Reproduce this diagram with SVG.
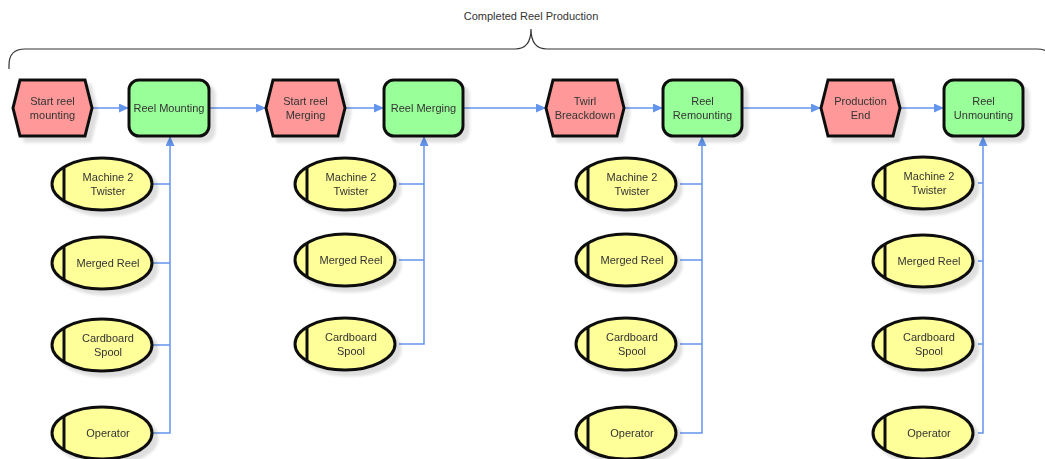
<svg xmlns="http://www.w3.org/2000/svg" width="1045" height="459" viewBox="0 0 1045 459">
<defs>
<filter id="sh" x="-20%" y="-20%" width="150%" height="160%">
<feGaussianBlur in="SourceAlpha" stdDeviation="1.5"/>
<feOffset dx="5" dy="5" result="b"/>
<feComponentTransfer><feFuncA type="linear" slope="0.13"/></feComponentTransfer>
<feMerge><feMergeNode/><feMergeNode in="SourceGraphic"/></feMerge>
</filter>
<marker id="ah" markerUnits="userSpaceOnUse" markerWidth="10" markerHeight="10" refX="10" refY="4.5" orient="auto">
<path d="M0,0 L10,4.5 L0,9 z" fill="#6495ed"/>
</marker>
</defs>
<style>
text{font-family:"Liberation Sans",Arial,sans-serif;font-size:11px;fill:#333;text-anchor:middle}
.ev{fill:#ff9999;stroke:#111;stroke-width:3;stroke-linejoin:miter}
.fn{fill:#99ff99;stroke:#111;stroke-width:3}
.el{fill:#ffff99;stroke:#111;stroke-width:3}
.bar{stroke:#111;stroke-width:3}
.c{fill:none;stroke:#6495ed;stroke-width:1.5}
.ca{fill:none;stroke:#6495ed;stroke-width:1.5;marker-end:url(#ah)}
.brace{fill:none;stroke:#333;stroke-width:1.2}
</style>
<g id="brace">
<path class="brace" d="M9,69 L9,65 Q9,49 25,49 L515,49 Q531,49 531,29 Q531,49 547,49 L1037,49 Q1053,49 1053,65 L1053,69"/>
<text x="531" y="20">Completed Reel Production</text>
</g>
<g id="connectors">
<line class="ca" x1="92" y1="108" x2="129" y2="108"/>
<line class="ca" x1="209" y1="108" x2="266" y2="108"/>
<line class="ca" x1="345" y1="108" x2="384" y2="108"/>
<line class="ca" x1="463" y1="108" x2="546" y2="108"/>
<line class="ca" x1="624" y1="108" x2="663" y2="108"/>
<line class="ca" x1="742" y1="108" x2="821" y2="108"/>
<line class="ca" x1="900" y1="108" x2="944" y2="108"/>
<path class="ca" d="M152,433 L170,433 L170,136"/>
<path class="c" d="M152,184 L170,184 M152,263 L170,263 M152,345 L170,345"/>
<path class="ca" d="M399,344 L424,344 L424,136"/>
<path class="c" d="M399,184 L424,184 M399,260 L424,260"/>
<path class="ca" d="M680,433 L702,433 L702,136"/>
<path class="c" d="M680,184 L702,184 M680,260 L702,260 M680,344 L702,344"/>
<path class="ca" d="M978,433 L983,433 L983,136"/>
<path class="c" d="M978,183 L983,183 M978,261 L983,261 M978,344 L983,344"/>
</g>
<g id="ev1" filter="url(#sh)"><polygon class="ev" points="13,108 20,80 85,80 92,108 85,136 20,136"/><text x="52.5" y="105">Start reel</text><text x="52.5" y="119">mounting</text></g>
<g id="fn1" filter="url(#sh)"><rect class="fn" x="129" y="80" width="80" height="56" rx="10"/><text x="169" y="112">Reel Mounting</text></g>
<g id="ev2" filter="url(#sh)"><polygon class="ev" points="266,108 273,80 338,80 345,108 338,136 273,136"/><text x="305.5" y="105">Start reel</text><text x="305.5" y="119">Merging</text></g>
<g id="fn2" filter="url(#sh)"><rect class="fn" x="384" y="80" width="79" height="56" rx="10"/><text x="423.5" y="112">Reel Merging</text></g>
<g id="ev3" filter="url(#sh)"><polygon class="ev" points="546,108 553,80 617,80 624,108 617,136 553,136"/><text x="585" y="105">Twirl</text><text x="585" y="119">Breackdown</text></g>
<g id="fn3" filter="url(#sh)"><rect class="fn" x="663" y="80" width="79" height="56" rx="10"/><text x="702.5" y="105">Reel</text><text x="702.5" y="119">Remounting</text></g>
<g id="ev4" filter="url(#sh)"><polygon class="ev" points="821,108 828,80 893,80 900,108 893,136 828,136"/><text x="860.5" y="105">Production</text><text x="860.5" y="119">End</text></g>
<g id="fn4" filter="url(#sh)"><rect class="fn" x="944" y="80" width="79" height="56" rx="10"/><text x="983.5" y="105">Reel</text><text x="983.5" y="119">Unmounting</text></g>

<g id="g1m" filter="url(#sh)"><ellipse class="el" cx="102" cy="184" rx="50" ry="26"/><line class="bar" x1="64" y1="167" x2="64" y2="201"/><text x="108" y="181">Machine 2</text><text x="108" y="195">Twister</text></g>
<g id="g1r" filter="url(#sh)"><ellipse class="el" cx="102" cy="263" rx="50" ry="26"/><line class="bar" x1="64" y1="246" x2="64" y2="280"/><text x="108" y="267">Merged Reel</text></g>
<g id="g1c" filter="url(#sh)"><ellipse class="el" cx="102" cy="345" rx="50" ry="26"/><line class="bar" x1="64" y1="328" x2="64" y2="362"/><text x="108" y="342">Cardboard</text><text x="108" y="356">Spool</text></g>
<g id="g1o" filter="url(#sh)"><ellipse class="el" cx="102" cy="433" rx="50" ry="26"/><line class="bar" x1="64" y1="416" x2="64" y2="450"/><text x="108" y="437">Operator</text></g>

<g id="g2m" filter="url(#sh)"><ellipse class="el" cx="345" cy="184" rx="50" ry="26"/><line class="bar" x1="307" y1="167" x2="307" y2="201"/><text x="351" y="181">Machine 2</text><text x="351" y="195">Twister</text></g>
<g id="g2r" filter="url(#sh)"><ellipse class="el" cx="345" cy="260" rx="50" ry="26"/><line class="bar" x1="307" y1="243" x2="307" y2="277"/><text x="351" y="264">Merged Reel</text></g>
<g id="g2c" filter="url(#sh)"><ellipse class="el" cx="345" cy="344" rx="50" ry="26"/><line class="bar" x1="307" y1="327" x2="307" y2="361"/><text x="351" y="341">Cardboard</text><text x="351" y="355">Spool</text></g>

<g id="g3m" filter="url(#sh)"><ellipse class="el" cx="626" cy="184" rx="50" ry="26"/><line class="bar" x1="588" y1="167" x2="588" y2="201"/><text x="632" y="181">Machine 2</text><text x="632" y="195">Twister</text></g>
<g id="g3r" filter="url(#sh)"><ellipse class="el" cx="626" cy="260" rx="50" ry="26"/><line class="bar" x1="588" y1="243" x2="588" y2="277"/><text x="632" y="264">Merged Reel</text></g>
<g id="g3c" filter="url(#sh)"><ellipse class="el" cx="626" cy="344" rx="50" ry="26"/><line class="bar" x1="588" y1="327" x2="588" y2="361"/><text x="632" y="341">Cardboard</text><text x="632" y="355">Spool</text></g>
<g id="g3o" filter="url(#sh)"><ellipse class="el" cx="626" cy="433" rx="50" ry="26"/><line class="bar" x1="588" y1="416" x2="588" y2="450"/><text x="632" y="437">Operator</text></g>

<g id="g4m" filter="url(#sh)"><ellipse class="el" cx="923" cy="183" rx="50" ry="26"/><line class="bar" x1="885" y1="166" x2="885" y2="200"/><text x="929" y="180">Machine 2</text><text x="929" y="194">Twister</text></g>
<g id="g4r" filter="url(#sh)"><ellipse class="el" cx="923" cy="261" rx="50" ry="26"/><line class="bar" x1="885" y1="244" x2="885" y2="278"/><text x="929" y="265">Merged Reel</text></g>
<g id="g4c" filter="url(#sh)"><ellipse class="el" cx="923" cy="344" rx="50" ry="26"/><line class="bar" x1="885" y1="327" x2="885" y2="361"/><text x="929" y="341">Cardboard</text><text x="929" y="355">Spool</text></g>
<g id="g4o" filter="url(#sh)"><ellipse class="el" cx="923" cy="433" rx="50" ry="26"/><line class="bar" x1="885" y1="416" x2="885" y2="450"/><text x="929" y="437">Operator</text></g>
</svg>
